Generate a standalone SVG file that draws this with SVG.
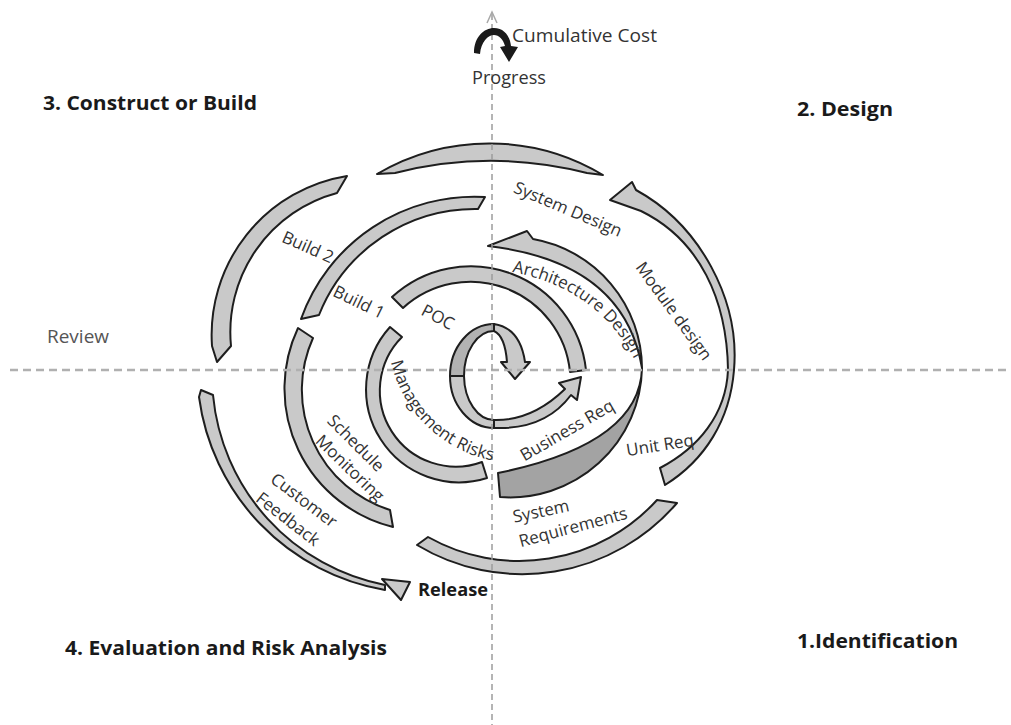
<svg xmlns="http://www.w3.org/2000/svg" width="1011" height="725" viewBox="0 0 1011 725">
<defs>
<style>
.band{fill:#c9c9c9;stroke:#1e1e1e;stroke-width:2;stroke-linejoin:round}
.shade{fill:#a3a3a3}
.shade2{fill:#b2b2b2}
.axh{fill:none;stroke:#b0b0b0;stroke-width:2.5;stroke-dasharray:8 5}
.axv{fill:none;stroke:#9c9c9c;stroke-width:1.5;stroke-dasharray:6 4}
.lbl{font-family:"Open Sans","Noto Sans","Liberation Sans",sans-serif;font-size:17px;fill:#333;text-anchor:middle}
.plain{font-family:"Open Sans","Noto Sans","Liberation Sans",sans-serif;font-size:17px;fill:#333}
.hd{font-family:"Open Sans","Noto Sans","Liberation Sans",sans-serif;font-size:20px;font-weight:bold;fill:#1a1a1a}
</style>
<path id="pArch" d="M 512,272 Q 606,290 641,374"/>
<path id="pMgmt" d="M 391,362 A 130 130 0 0 0 495,461"/>
</defs>
<rect width="1011" height="725" fill="#ffffff"/>

<g id="spiral">
<path id="top-arc" class="band" d="M 377,174 A 221 221 0 0 1 603,175 L 587,173 A 390 390 0 0 0 395,173 Z"/>
<path id="build2-arc" class="band" d="M 347,176 A 161 161 0 0 0 212,346 L 217,362 L 231,346 A 144 144 0 0 1 337,193 Z"/>
<path id="build1-arc" class="band" d="M 485,197 A 184 184 0 0 0 301,319 L 319,315 A 168 168 0 0 1 478,209 Z"/>
<path id="schedule-arc" class="band" d="M 298,328 A 142.5 142.5 0 0 0 393,527 L 390,510 A 126 126 0 0 1 313,338 Z"/>
<path id="feedback-arc" class="band" d="M 201,390 L 213,395 A 214 214 0 0 0 385,585 L 385,590 A 226 226 0 0 1 199,397 Z"/>
<path id="release-head" class="band" d="M 382,579 L 410,582 L 401,600 Z"/>
<path id="mgmt-arc" class="band" d="M 390,327 A 93 93 0 0 0 487,478 L 482,462 A 76 76 0 0 1 402,337 Z"/>
<path id="poc-arc" class="band" d="M 392,297 A 116 116 0 0 1 586,370 L 570,372 A 100 100 0 0 0 403,308 Z"/>
<path id="arch-arc" class="band" d="M 488,246 L 527,231 L 533,239 A 132 132 0 0 1 642,368 Q 624,262 488,246 Z"/>
<path id="business-arc" class="band shade" d="M 642,368 A 132 132 0 0 1 500,497 L 498,473 Q 640,444 642,368 Z"/>
<path id="module-arc" class="band" d="M 610,200 L 632,182 L 636,190 C 700,225 740,300 734,370 C 730,420 705,460 665,485 L 660,468 C 698,448 726,415 728,370 C 727,300 700,240 641,211 Z"/>
<path id="sysreq-arc" class="band" d="M 677,503 A 204 204 0 0 1 417,545 L 428,537 A 186 186 0 0 0 657,500 Z"/>
<g id="center-c">
<path class="band shade2" d="M 494,324 A 44 52 0 0 0 450,376 L 464,376 A 30 45 0 0 1 494,331 Z"/>
<path class="band" d="M 450,376 A 44 52 0 0 0 494,428 L 494,420 A 30 45 0 0 1 464,376 Z"/>
<path class="band" d="M 494,324 Q 520,328 525,362 L 530,362 L 515,379 L 501,362 L 507,362 Q 505,336 494,331 Z"/>
<path class="band" d="M 494,428 Q 545,430 571,395 L 577,400 L 581,377 L 559,383 L 565,389 Q 532,421 494,420 Z"/>
</g>
</g>

<g id="axes">
<line class="axh" x1="10" y1="370" x2="1011" y2="370"/>
<line class="axv" x1="492" y1="14" x2="492" y2="725"/>
<polyline points="487,23 492,12 497,23" fill="none" stroke="#a8a8a8" stroke-width="1.5"/>
<path id="progress-arrow" fill="#1a1a1a" d="M 474,53 C 474,37 484,28 494,28 C 504,28 510,36 511,46 L 518,47 L 509,62 L 500,47 L 505,46 C 503,39 499,35 494,35 C 488,35 481,42 480,54 Z"/>
</g>

<g id="labels">
<text class="hd" x="43" y="110" textLength="214" lengthAdjust="spacingAndGlyphs">3. Construct or Build</text>
<text class="hd" x="797" y="116" textLength="96" lengthAdjust="spacingAndGlyphs">2. Design</text>
<text class="hd" x="65" y="655" textLength="322" lengthAdjust="spacingAndGlyphs">4. Evaluation and Risk Analysis</text>
<text class="hd" x="797" y="648" textLength="161" lengthAdjust="spacingAndGlyphs">1.Identification</text>
<text class="hd" x="418" y="596" style="font-size:17px" textLength="70" lengthAdjust="spacingAndGlyphs">Release</text>
<text class="plain" x="47" y="343" style="fill:#555;font-size:19px" textLength="62" lengthAdjust="spacingAndGlyphs">Review</text>
<text class="plain" x="512" y="42" style="font-size:18.5px" textLength="145" lengthAdjust="spacingAndGlyphs">Cumulative Cost</text>
<text class="plain" x="472" y="84" style="font-size:18.5px" textLength="74" lengthAdjust="spacingAndGlyphs">Progress</text>
<text class="lbl" transform="translate(308,247) rotate(24)" y="6">Build 2</text>
<text class="lbl" transform="translate(359,302) rotate(26)" y="6">Build 1</text>
<text class="lbl" transform="translate(438,317) rotate(28)" y="6">POC</text>
<text class="lbl" transform="translate(568,209) rotate(23)" y="6">System Design</text>
<text class="lbl" transform="translate(674,311) rotate(54)" y="6">Module design</text>
<text class="lbl" transform="translate(567,430) rotate(-30)" y="6">Business Req</text>
<text class="lbl" transform="translate(660,445) rotate(-9)" y="6">Unit Req</text>
<text class="lbl" transform="translate(541,511) rotate(-12)" y="6">System</text>
<text class="lbl" transform="translate(573,527) rotate(-15)" y="6">Requirements</text>
<text class="lbl" transform="translate(356,443) rotate(45)" y="6">Schedule</text>
<text class="lbl" transform="translate(350,468) rotate(44)" y="6">Monitoring</text>
<text class="lbl" transform="translate(304,500) rotate(37)" y="6">Customer</text>
<text class="lbl" transform="translate(288,519) rotate(38)" y="6">Feedback</text>
<text class="plain"><textPath href="#pArch">Architecture Design</textPath></text>
<text class="plain"><textPath href="#pMgmt">Management Risks</textPath></text>
</g>
</svg>
